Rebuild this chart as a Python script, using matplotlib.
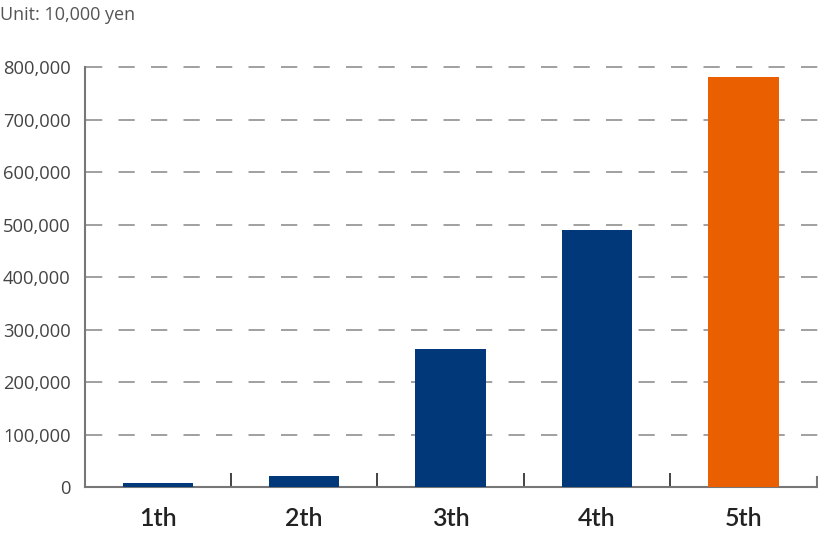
import matplotlib
matplotlib.use("Agg")
import matplotlib.pyplot as plt

# data (unit: 10,000 yen)
categories = ["1th", "2th", "3th", "4th", "5th"]
values = [7600, 21500, 262900, 490500, 781000]
colors = ["#003879", "#003879", "#003879", "#003879", "#EA6000"]
yticks = [0, 100000, 200000, 300000, 400000, 500000, 600000, 700000, 800000]

fig = plt.figure(figsize=(8.18, 5.42), dpi=100)
ax = fig.add_axes([84.5/818, 54.7/542, (816.7-84.5)/818, (487.3-67.3)/542])

x = list(range(len(categories)))
ax.bar(x, values, width=0.48, color=colors, zorder=3)

ax.set_xlim(-0.5, len(categories) - 0.5)
ax.set_ylim(0, 800000)
ax.set_yticks(yticks)
ax.set_yticklabels(["{:,}".format(v) for v in yticks], fontfamily="Open Sans",
                   fontsize=13.2, color="#444444")
ax.tick_params(axis="y", length=0, pad=10)

# category labels, ticks at category boundaries pointing in
ax.set_xticks(x)
ax.set_xticklabels(categories, fontfamily="Lato", fontsize=18, fontweight="semibold",
                   color="#222222")
ax.tick_params(axis="x", which="major", length=0, pad=14)
ax.set_xticks([i + 0.5 for i in x[:-1]], minor=True)
ax.tick_params(axis="x", which="minor", direction="in", length=10, width=1.2, color="#222222")
# gray end tick at the right end of the axis
ax.plot([x[-1] + 0.5, x[-1] + 0.5], [0, 800000 * 10 / 420], color="#777777", lw=1.5,
        clip_on=False, zorder=4)

# dashed grid, running to the right edge
for v in yticks[1:]:
    ax.plot([-0.49, 5.1], [v, v], color="#999999", lw=1.3, dashes=(9, 9),
            zorder=1, clip_on=False)

for s in ["top", "right"]:
    ax.spines[s].set_visible(False)
ax.spines["left"].set_color("#777777")
ax.spines["left"].set_linewidth(1.5)
ax.spines["bottom"].set_color("#777777")
ax.spines["bottom"].set_linewidth(1.5)

fig.text(0.0, 1 - 20/542, "Unit: 10,000 yen", fontfamily="Open Sans", fontsize=13,
         color="#555555", ha="left", va="baseline")

fig.savefig("out.png", dpi=100)
